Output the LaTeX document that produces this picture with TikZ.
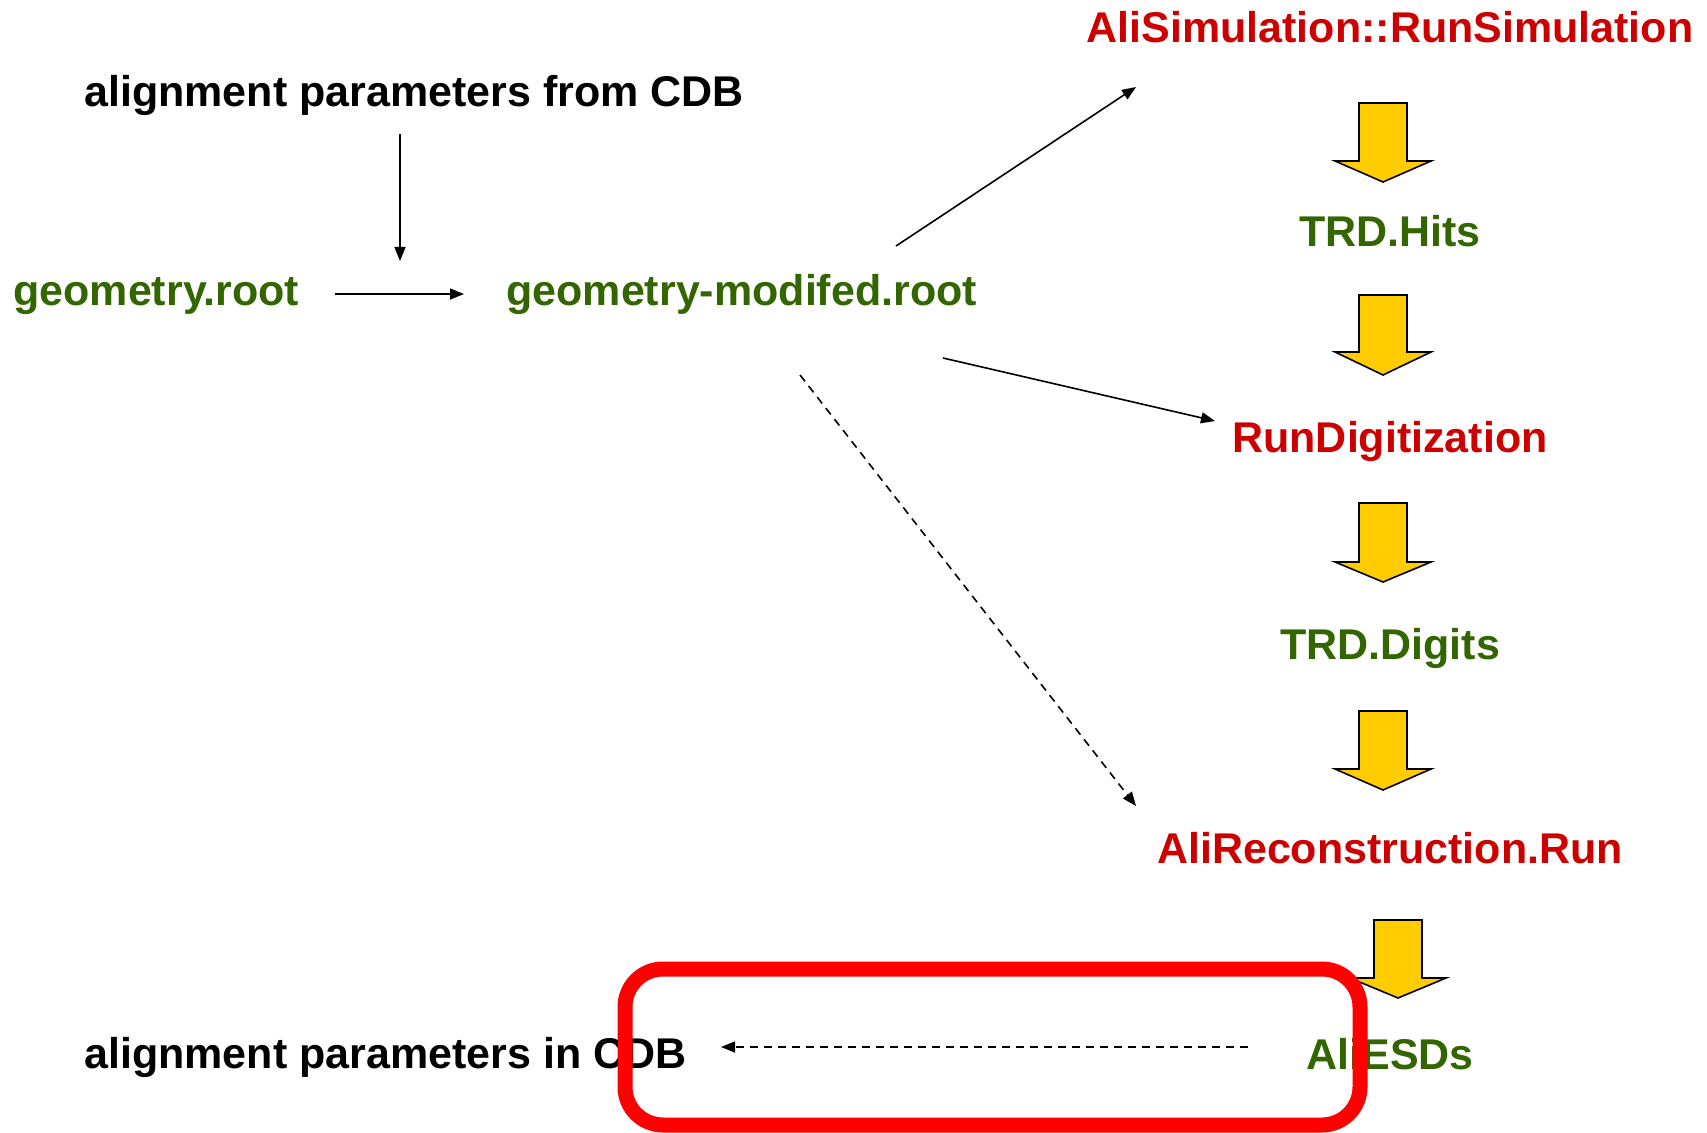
\documentclass[tikz,border=0pt]{standalone}
\usepackage{fontspec}
\setmainfont{Liberation Sans}
\usetikzlibrary{arrows.meta}
\definecolor{tred}{HTML}{CC0000}
\definecolor{tgreen}{HTML}{336600}
\definecolor{byellow}{HTML}{FFCC00}
\definecolor{boxred}{HTML}{FF0000}
\begin{document}
\begin{tikzpicture}[x=0.5pt,y=-0.5pt,
  lbl/.style={inner sep=0pt,font=\fontsize{21.5}{26}\selectfont\bfseries},
  blk/.style={lbl,text=black,anchor=base west},
  grn/.style={lbl,text=tgreen,anchor=base west},
  rgrn/.style={lbl,text=tgreen,anchor=base},
  rd/.style={lbl,text=tred,anchor=base},
  conn/.style={line width=0.8pt,-{Triangle[length=7pt,width=5.5pt]}},
  dconn/.style={conn,dashed,dash pattern=on 4pt off 3pt},
  bigarrow/.style={draw=black,line width=0.8pt,fill=byellow,line join=miter}]
\useasboundingbox (0,0) rectangle (1707,1133);
% texts
\node[blk] (cdbin) at (84,107) {alignment parameters from CDB};
\node[grn] (geo) at (13,306) {geometry.root};
\node[grn] (geomod) at (506,306) {geometry-modifed.root};
\node[rd] (sim) at (1390,43) {AliSimulation::RunSimulation};
\node[rgrn] (hits) at (1390,247) {TRD.Hits};
\node[rd] (digi) at (1390,453) {RunDigitization};
\node[rgrn] (digits) at (1390,659) {TRD.Digits};
\node[rd] (reco) at (1390,863) {AliReconstruction.Run};
\node[rgrn] (esd) at (1390,1069) {AliESDs};
\node[blk] (cdbout) at (84,1068) {alignment parameters in CDB};
% connector end points
\coordinate (c1a) at (400,134); \coordinate (c1b) at (400,261);
\coordinate (c2a) at (335,294); \coordinate (c2b) at (464,294);
\coordinate (c3a) at (896,246); \coordinate (c3b) at (1136,87);
\coordinate (c4a) at (943,358); \coordinate (c4b) at (1215,421);
\coordinate (c5a) at (800,375); \coordinate (c5b) at (1136,806);
\coordinate (c6a) at (1248,1047); \coordinate (c6b) at (721,1047);
\draw[conn] (c1a) -- (c1b);
\draw[conn] (c2a) -- (c2b);
\draw[conn] (c3a) -- (c3b);
\draw[conn] (c4a) -- (c4b);
\draw[dconn] (c5a) -- (c5b);
\draw[dconn] (c6a) -- (c6b);
% block arrows
\foreach \cx/\t/\b/\p in {1383/103/161/182, 1383/295/352/375, 1383/503/562/582, 1383/711/769/790, 1398/920/978/998}{
  \draw[bigarrow] (\cx-24,\t) -- (\cx+24,\t) -- (\cx+24,\b) -- (\cx+48,\b) -- (\cx,\p) -- (\cx-48,\b) -- (\cx-24,\b) -- cycle;
}
% red box
\draw[boxred,line width=7.5pt,rounded corners=19pt] (625,969) rectangle (1360,1125);
\end{tikzpicture}
\end{document}
